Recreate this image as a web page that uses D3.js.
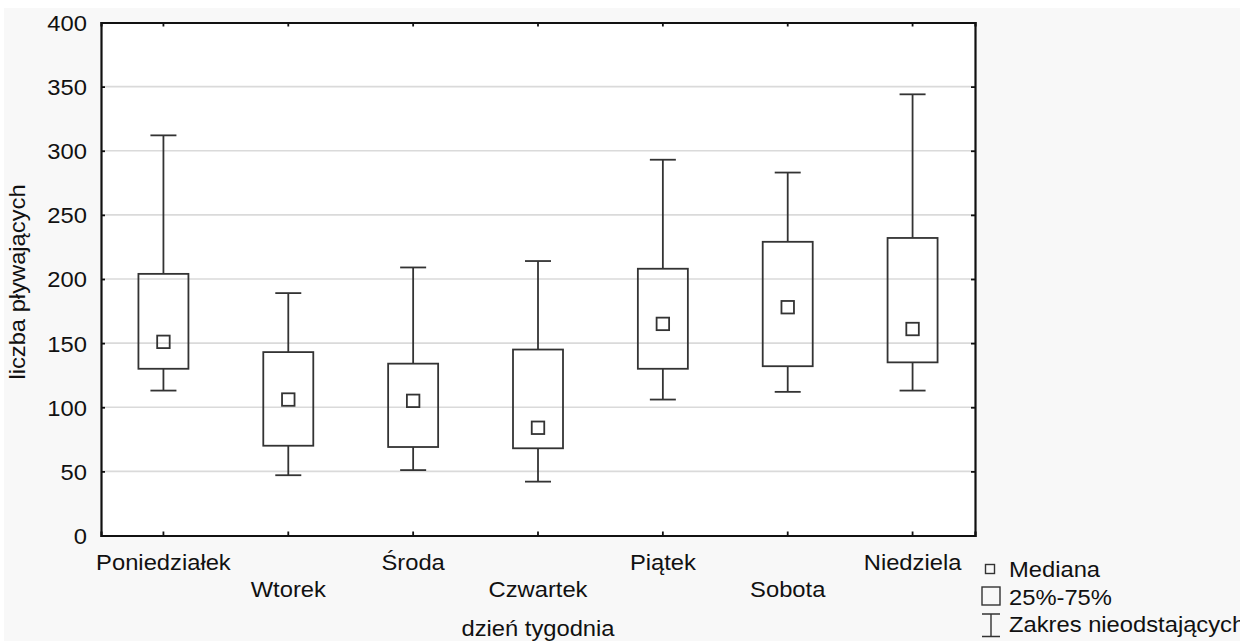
<!DOCTYPE html>
<html>
<head>
<meta charset="utf-8">
<script src="https://cdn.jsdelivr.net/npm/d3@7"></script>
<style>
  body { margin: 0; background: #ffffff; }
  text { font-family: "Liberation Sans", Arial, sans-serif; fill: #111; }
</style>
</head>
<body>
<div id="chart"></div>
<script>
// data
var days = ["Poniedziałek", "Wtorek", "Środa", "Czwartek", "Piątek", "Sobota", "Niedziela"];
var whiskerLow = [113, 47, 51, 42, 106, 112, 113];
var q1 = [130, 70, 69, 68, 130, 132, 135];
var median = [151, 106, 105, 84, 165, 178, 161];
var q3 = [204, 143, 134, 145, 208, 229, 232];
var whiskerHigh = [312, 189, 209, 214, 293, 283, 344];
var yTicks = [0, 50, 100, 150, 200, 250, 300, 350, 400];
var legendLabels = ["Mediana", "25%-75%", "Zakres nieodstających"];

var svgWidth = 1243;
var svgHeight = 641;
var margin = { top: 22.5, left: 101, right: 268, bottom: 105.5 };
var width = svgWidth - margin.left - margin.right;
var height = svgHeight - margin.top - margin.bottom;
var fontSize = 22;
var stretch = "scale(1.08,1)";

var svg = d3.select("#chart")
  .append("svg")
  .attr("width", svgWidth)
  .attr("height", svgHeight);

// grey page background
svg.append("rect")
  .attr("x", 4).attr("y", 8)
  .attr("width", 1236).attr("height", svgHeight - 8)
  .attr("fill", "#f8f8f8");

svg.append("clipPath").attr("id", "pageClip")
  .append("rect").attr("x", 0).attr("y", 0).attr("width", 1240).attr("height", svgHeight);

var chartGroup = svg.append("g")
  .attr("transform", `translate(${margin.left}, ${margin.top})`);

// scales
var xScale = d3.scaleBand().domain(days).range([0, width]);
var yScale = d3.scaleLinear().domain([0, 400]).range([height, 0]);

// plot area
chartGroup.append("rect")
  .attr("width", width).attr("height", height)
  .attr("fill", "#ffffff");

// grid lines
chartGroup.append("g")
  .selectAll("line")
  .data(yTicks.filter(d => d > 0 && d < 400))
  .enter()
  .append("line")
  .attr("x1", 0).attr("x2", width)
  .attr("y1", d => yScale(d)).attr("y2", d => yScale(d))
  .attr("stroke", "#dadada")
  .attr("stroke-width", 1.6);

// axes
var leftAxis = chartGroup.append("g")
  .call(d3.axisLeft(yScale).tickValues(yTicks).tickSize(-4).tickPadding(13));
var rightAxis = chartGroup.append("g")
  .attr("transform", `translate(${width}, 0)`)
  .call(d3.axisRight(yScale).tickValues(yTicks).tickSize(-4).tickFormat(""));
var bottomAxis = chartGroup.append("g")
  .attr("transform", `translate(0, ${height})`)
  .call(d3.axisBottom(xScale).tickSize(-4).tickPadding(0));
var topAxis = chartGroup.append("g")
  .call(d3.axisTop(xScale).tickSize(-4).tickFormat(""));

[leftAxis, rightAxis, bottomAxis, topAxis].forEach(function(ax) {
  ax.select(".domain").attr("stroke", "#111").attr("stroke-width", 2.2);
  ax.selectAll(".tick line").attr("stroke", "#111").attr("stroke-width", 1.8);
});

leftAxis.selectAll(".tick text")
  .attr("font-size", fontSize)
  .attr("dy", "0.36em")
  .attr("transform", stretch)
  .style("fill", "#111");

// category labels on two rows
bottomAxis.selectAll(".tick text")
  .attr("font-size", fontSize)
  .attr("y", (d, i) => i % 2 === 0 ? 34.5 : 62)
  .attr("dy", 0)
  .attr("transform", stretch)
  .style("fill", "#111");

// boxes
var boxWidth = 50;
var capWidth = 26;
var medSize = 12.5;
var stroke = "#333";
var lw = 1.8;

var boxes = chartGroup.append("g")
  .selectAll("g")
  .data(days)
  .enter()
  .append("g")
  .attr("transform", d => `translate(${xScale(d) + xScale.bandwidth() / 2}, 0)`);

boxes.append("line")
  .attr("y1", (d, i) => yScale(whiskerHigh[i]))
  .attr("y2", (d, i) => yScale(q3[i]))
  .attr("stroke", stroke).attr("stroke-width", lw);
boxes.append("line")
  .attr("y1", (d, i) => yScale(q1[i]))
  .attr("y2", (d, i) => yScale(whiskerLow[i]))
  .attr("stroke", stroke).attr("stroke-width", lw);
boxes.append("line")
  .attr("x1", -capWidth / 2).attr("x2", capWidth / 2)
  .attr("y1", (d, i) => yScale(whiskerHigh[i]))
  .attr("y2", (d, i) => yScale(whiskerHigh[i]))
  .attr("stroke", stroke).attr("stroke-width", lw);
boxes.append("line")
  .attr("x1", -capWidth / 2).attr("x2", capWidth / 2)
  .attr("y1", (d, i) => yScale(whiskerLow[i]))
  .attr("y2", (d, i) => yScale(whiskerLow[i]))
  .attr("stroke", stroke).attr("stroke-width", lw);
boxes.append("rect")
  .attr("x", -boxWidth / 2)
  .attr("width", boxWidth)
  .attr("y", (d, i) => yScale(q3[i]))
  .attr("height", (d, i) => yScale(q1[i]) - yScale(q3[i]))
  .attr("fill", "none")
  .attr("stroke", stroke).attr("stroke-width", lw);
boxes.append("rect")
  .attr("x", -medSize / 2)
  .attr("width", medSize)
  .attr("y", (d, i) => yScale(median[i]) - medSize / 2)
  .attr("height", medSize)
  .attr("fill", "none")
  .attr("stroke", stroke).attr("stroke-width", lw);

// axis titles
svg.append("text")
  .attr("transform", `translate(25, ${margin.top + height / 2 + 3}) rotate(-90) ${stretch}`)
  .attr("text-anchor", "middle")
  .attr("font-size", fontSize)
  .text("liczba pływających");

svg.append("text")
  .attr("transform", `translate(${margin.left + width / 2}, 636) ${stretch}`)
  .attr("text-anchor", "middle")
  .attr("font-size", fontSize)
  .text("dzień tygodnia");

// legend
var legend = svg.append("g").attr("clip-path", "url(#pageClip)");
var legendY = [577, 605, 632];

legend.append("rect")
  .attr("x", 985.5).attr("y", 564.5).attr("width", 9).attr("height", 9)
  .attr("fill", "none").attr("stroke", stroke).attr("stroke-width", 1.4);
legend.append("rect")
  .attr("x", 982).attr("y", 587).attr("width", 18).attr("height", 18)
  .attr("fill", "none").attr("stroke", stroke).attr("stroke-width", 1.4);
legend.append("path")
  .attr("d", "M982,614H1000M991,614V636.5M982,636.5H1000")
  .attr("fill", "none").attr("stroke", stroke).attr("stroke-width", 1.4);

legend.selectAll("text.leg")
  .data(legendLabels)
  .enter()
  .append("text")
  .attr("class", "leg")
  .attr("transform", (d, i) => `translate(1009, ${legendY[i]}) ${stretch}`)
  .attr("font-size", fontSize)
  .text(d => d);
</script>
</body>
</html>
